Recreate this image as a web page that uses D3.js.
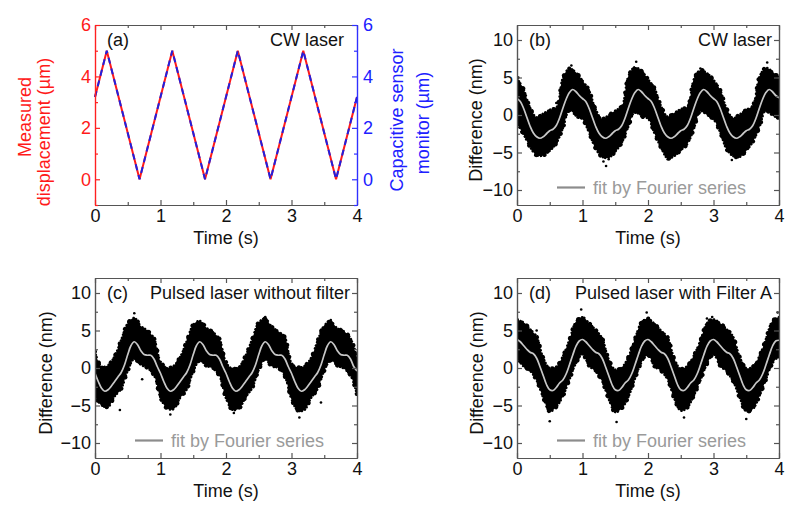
<!DOCTYPE html>
<html><head><meta charset="utf-8">
<script src="https://cdn.jsdelivr.net/npm/d3@7"></script>
<style>
body{margin:0;background:#fff}
svg{display:block}
text{font-family:"Liberation Sans",Arial,Helvetica,sans-serif}
</style>
</head><body>
<svg id="chart" width="800" height="514"></svg>
<script>
// ---------- DATA ----------
// Panel (a): triangle displacement vs time
const triTime      = [0, 0.18, 0.68, 1.18, 1.68, 2.18, 2.68, 3.18, 3.68, 4.0];
const measuredDisp = [3.2, 5, 0, 5, 0, 5, 0, 5, 0, 3.2];
const capSensor    = [3.2, 5, 0, 5, 0, 5, 0, 5, 0, 3.2];

const xTicks = [0, 1, 2, 3, 4];
const aTicks = [0, 2, 4, 6];
const dTicks = [-10, -5, 0, 5, 10];

// Fourier-fit curves (sampled every 0.05 s, 0..4 s)
const fitB = [2.2,1.8,0.9,-0.3,-1.5,-2.4,-2.9,-3.1,-2.9,-2.5,-2.1,-1.9,-1.4,-0.4,0.9,2.1,3.0,3.4,3.1,2.6,
              2.2,1.8,0.9,-0.3,-1.5,-2.4,-2.9,-3.1,-2.9,-2.5,-2.1,-1.9,-1.4,-0.4,0.9,2.1,3.0,3.4,3.1,2.6,
              2.2,1.8,0.9,-0.3,-1.5,-2.4,-2.9,-3.1,-2.9,-2.5,-2.1,-1.9,-1.4,-0.4,0.9,2.1,3.0,3.4,3.1,2.6,
              2.2,1.8,0.9,-0.3,-1.5,-2.4,-2.9,-3.1,-2.9,-2.5,-2.1,-1.9,-1.4,-0.4,0.9,2.1,3.0,3.4,3.1,2.6,
              2.3];
const fitC = [-0.7,-1.8,-2.7,-3.1,-2.9,-2.4,-1.8,-1.2,-0.6,0.4,1.8,3.0,3.5,3.1,2.3,1.8,1.7,1.7,1.2,0.2,
              -0.7,-1.8,-2.7,-3.1,-2.9,-2.4,-1.8,-1.2,-0.6,0.4,1.8,3.0,3.5,3.1,2.3,1.8,1.7,1.7,1.2,0.2,
              -0.7,-1.8,-2.7,-3.1,-2.9,-2.4,-1.8,-1.2,-0.6,0.4,1.8,3.0,3.5,3.1,2.3,1.8,1.7,1.7,1.2,0.2,
              -0.7,-1.8,-2.7,-3.1,-2.9,-2.4,-1.8,-1.2,-0.6,0.4,1.8,3.0,3.5,3.1,2.3,1.8,1.7,1.7,1.2,0.2,
              -0.4];
const fitD = [3.8,3.5,3.0,2.5,2.1,1.9,1.3,0.2,-1.0,-2.2,-2.9,-3.0,-2.6,-2.0,-1.6,-0.8,0.4,1.7,2.9,3.6,
              3.8,3.5,3.0,2.5,2.1,1.9,1.3,0.2,-1.0,-2.2,-2.9,-3.0,-2.6,-2.0,-1.6,-0.8,0.4,1.7,2.9,3.6,
              3.8,3.5,3.0,2.5,2.1,1.9,1.3,0.2,-1.0,-2.2,-2.9,-3.0,-2.6,-2.0,-1.6,-0.8,0.4,1.7,2.9,3.6,
              3.8,3.5,3.0,2.5,2.1,1.9,1.3,0.2,-1.0,-2.2,-2.9,-3.0,-2.6,-2.0,-1.6,-0.8,0.4,1.7,2.9,3.6,
              3.7];

// Scatter cloud envelopes (sampled every 0.1 s, 0..4 s)
const upperB = [4.9,3.5,1.0,-0.3,0.2,0.7,1.0,5.0,6.2,5.7,
                4.6,3.3,0.8,-0.5,0.0,0.6,1.2,5.2,6.4,5.9,
                4.8,3.6,1.2,-0.2,0.3,0.8,1.1,4.8,6.0,5.6,
                4.7,3.4,0.9,-0.4,0.1,0.7,1.3,5.1,6.3,5.8,
                5.0];
const lowerB = [-1.2,-2.6,-4.3,-5.4,-5.4,-4.8,-3.8,-1.8,0.6,-0.1,
                -0.6,-2.4,-4.5,-5.6,-5.7,-4.9,-3.7,-1.6,0.4,-0.2,
                -0.5,-2.5,-4.4,-5.8,-5.5,-4.7,-3.9,-1.9,0.5,0.0,
                -0.6,-2.3,-4.6,-5.5,-5.6,-4.8,-3.6,-1.7,0.6,-0.1,
                -0.4];
const upperC = [2.2,0.2,0.4,1.6,3.8,6.0,6.7,5.6,5.0,4.0,
                0.9,0.0,0.3,1.5,3.6,5.8,6.3,5.4,4.8,3.9,
                0.8,-0.1,0.2,1.7,3.9,6.1,6.6,5.5,4.9,4.1,
                0.7,0.1,0.3,1.4,3.7,5.7,6.2,5.3,4.9,4.0,
                1.5];
const lowerC = [-3.8,-5.0,-5.2,-3.8,-2.8,-0.4,1.2,0.4,0.0,-1.0,
                -4.0,-5.4,-5.5,-4.0,-2.9,-0.5,1.0,0.3,-0.1,-1.1,
                -4.1,-5.6,-5.4,-3.9,-2.7,-0.3,1.1,0.2,0.0,-1.2,
                -4.2,-5.7,-5.6,-4.0,-2.8,-0.4,1.0,0.3,-0.1,-1.0,
                -3.6];
const upperD = [6.4,6.1,5.2,4.2,1.4,0.0,0.2,1.6,3.8,6.2,
                6.8,6.0,5.1,4.0,1.2,-0.2,0.1,1.5,3.9,6.1,
                6.6,5.9,5.0,4.1,1.3,-0.1,0.3,1.7,3.7,6.0,
                6.5,6.0,5.2,4.2,1.5,0.0,0.2,1.6,3.9,6.3,
                6.8];
const lowerD = [1.2,0.2,-0.4,-1.7,-4.0,-5.8,-5.2,-3.8,-1.6,0.6,
                1.8,0.3,-0.5,-1.8,-4.2,-5.9,-5.4,-3.9,-1.5,0.7,
                1.7,0.2,-0.4,-1.6,-4.1,-5.7,-5.3,-3.7,-1.7,0.5,
                1.8,0.3,-0.5,-1.8,-4.0,-5.8,-5.5,-3.8,-1.6,0.6,
                1.6];

// Isolated outlier points [time, value]
const outB = [[0.02,5.0],[0.83,6.6],[1.36,-6.8],[1.32,-6.2],[1.82,7.1],[2.3,-5.9],[2.8,6.2],[3.28,-6.0],[3.82,7.0],[0.6,1.6],[2.62,1.4],[1.4,-5.9]];
const outC = [[0.6,7.3],[1.15,-6.2],[0.38,-5.6],[2.12,-6.0],[2.6,6.8],[3.12,-6.6],[3.6,6.4],[1.02,-2.0],[0.72,-1.5],[3.45,-4.6]];
const outD = [[0.5,-7.1],[0.98,7.8],[1.98,7.4],[1.52,-7.2],[2.98,6.8],[2.55,-6.6],[3.98,7.4],[0.3,5.0],[3.5,-6.8],[2.9,6.6]];

// ---------- DRAW ----------
const svg = d3.select("#chart");
const FS = 18;
const W = 262, H = 180;
const fitTime = fitB.map((_, i) => i * 0.05);
const bandTime = upperB.map((_, i) => i * 0.1);

function axes(g, x, y, yTicks, yMinor, colors) {
  const frame = colors || {bottom:"#555", left:"#555", right:"#555", lt:"#111", rt:null};
  const xMinor = [0.5,1.5,2.5,3.5];
  g.append("g").attr("transform", `translate(0,${H})`)
    .call(d3.axisBottom(x).tickValues(xTicks).tickSizeInner(-5).tickSizeOuter(0).tickPadding(4).tickFormat(d3.format("d")));
  g.append("g").attr("transform", `translate(0,${H})`)
    .call(d3.axisBottom(x).tickValues(xMinor).tickSizeInner(-3).tickSizeOuter(0).tickFormat(""));
  g.append("g").call(d3.axisTop(x).tickValues(xTicks).tickSizeInner(-5).tickSizeOuter(0).tickFormat(""));
  g.append("g").call(d3.axisTop(x).tickValues(xMinor).tickSizeInner(-3).tickSizeOuter(0).tickFormat(""));
  g.append("g").attr("class","yl")
    .call(d3.axisLeft(y).tickValues(yTicks).tickSizeInner(-5).tickSizeOuter(0).tickPadding(4).tickFormat(d3.format("d")));
  g.append("g").attr("class","ylm")
    .call(d3.axisLeft(y).tickValues(yMinor).tickSizeInner(-3).tickSizeOuter(0).tickFormat(""));
  g.append("g").attr("class","yr").attr("transform", `translate(${W},0)`)
    .call(d3.axisRight(y).tickValues(yTicks).tickSizeInner(-5).tickSizeOuter(0).tickPadding(6)
      .tickFormat(frame.rt ? d3.format("d") : ""));
  g.append("g").attr("class","yrm").attr("transform", `translate(${W},0)`)
    .call(d3.axisRight(y).tickValues(yMinor).tickSizeInner(-3).tickSizeOuter(0).tickFormat(""));
  g.selectAll(".domain, .tick line").attr("stroke", frame.bottom).attr("stroke-width", 1.2);
  g.selectAll(".yl .domain, .yl .tick line, .ylm .domain, .ylm .tick line").attr("stroke", frame.left);
  g.selectAll(".yr .domain, .yr .tick line, .yrm .domain, .yrm .tick line").attr("stroke", frame.right);
  g.selectAll(".tick text").attr("font-size", FS).attr("fill", "#111");
  g.selectAll(".yl .tick text").attr("fill", frame.lt);
  if (frame.rt) g.selectAll(".yr .tick text").attr("fill", frame.rt);
  g.selectAll("g").attr("font-family", null).attr("font-size", null);
  g.append("text").attr("x", W/2).attr("y", H + 39).attr("text-anchor", "middle")
    .attr("font-size", FS).attr("fill", "#111").text("Time (s)");
}

function vlabel(x, y, txt, color) {
  svg.append("text").attr("transform", `translate(${x},${y}) rotate(-90)`)
    .attr("text-anchor", "middle").attr("dy", "0.35em").attr("font-size", FS).attr("fill", color).text(txt);
}

// ---- Panel (a)
{
  const g = svg.append("g").attr("transform", "translate(95,25)");
  const x = d3.scaleLinear().domain([0, 4]).range([0, W]);
  const y = d3.scaleLinear().domain([-1, 6]).range([H, 0]);
  const line = d3.line().x((d) => x(d[0])).y((d) => y(d[1]));
  g.append("path").datum(triTime.map((t, i) => [t, measuredDisp[i]]))
    .attr("d", line).attr("fill", "none").attr("stroke", "#ff1a1a").attr("stroke-width", 2);
  g.append("path").datum(triTime.map((t, i) => [t, capSensor[i]]))
    .attr("d", line).attr("fill", "none").attr("stroke", "#2020e0").attr("stroke-width", 2)
    .attr("stroke-dasharray", "6,5");
  axes(g, x, y, aTicks, [-1,1,3,5], {bottom:"#555", left:"#ff2020", right:"#3030ff", lt:"#ff1a1a", rt:"#2020ff"});
  g.append("text").attr("x", 12).attr("y", 21).attr("font-size", FS).attr("fill", "#111").text("(a)");
  g.append("text").attr("x", W - 13).attr("y", 21).attr("text-anchor", "end").attr("font-size", FS).attr("fill", "#111").text("CW laser");
  vlabel(25, 117, "Measured", "#ff1a1a");
  vlabel(44, 132, "displacement (µm)", "#ff1a1a");
  vlabel(397, 120, "Capacitive sensor", "#2020ff");
  vlabel(423, 123, "monitor (µm)", "#2020ff");
}

// ---- Panels (b), (c), (d)
const diffPanels = [
  {x0: 517, y0: 25,  fit: fitB, up: upperB, lo: lowerB, out: outB, tag: "(b)", title: "CW laser", labOff: 41},
  {x0: 95,  y0: 278, fit: fitC, up: upperC, lo: lowerC, out: outC, tag: "(c)", title: "Pulsed laser without filter", labOff: 49},
  {x0: 517, y0: 278, fit: fitD, up: upperD, lo: lowerD, out: outD, tag: "(d)", title: "Pulsed laser with Filter A", labOff: 40}
];
diffPanels.forEach((p, k) => {
  const g = svg.append("g").attr("transform", `translate(${p.x0},${p.y0})`);
  const x = d3.scaleLinear().domain([0, 4]).range([0, W]);
  const y = d3.scaleLinear().domain([-12, 12]).range([H, 0]);
  const cid = "clip" + k;
  g.append("clipPath").attr("id", cid).append("rect").attr("width", W).attr("height", H);
  const pg = g.append("g").attr("clip-path", `url(#${cid})`);
  const area = d3.area().x((d, i) => x(bandTime[i])).y0((d, i) => y(p.lo[i])).y1((d, i) => y(p.up[i]))
    .curve(d3.curveCatmullRom);
  pg.append("path").datum(p.up).attr("d", area).attr("fill", "#000");
  // speckled fringe along the cloud edge
  pg.append("path").datum(p.up).attr("d", area).attr("fill", "none")
    .attr("stroke", "#000").attr("stroke-width", 2.2).attr("stroke-linecap", "round")
    .attr("stroke-dasharray", "0.4 3.1 0.4 1.9 0.4 4.3 0.4 2.6");
  pg.append("path").datum(p.up).attr("d", area).attr("fill", "none")
    .attr("stroke", "#000").attr("stroke-width", 4).attr("stroke-linecap", "round")
    .attr("stroke-dasharray", "0.1 11.7 0.1 15.3 0.1 8.9");
  pg.selectAll("circle.o").data(p.out).join("circle").attr("class", "o")
    .attr("cx", (d) => x(d[0])).attr("cy", (d) => y(d[1])).attr("r", 1.3).attr("fill", "#000");
  pg.append("path").datum(p.fit)
    .attr("d", d3.line().x((d, i) => x(fitTime[i])).y((d) => y(d)).curve(d3.curveCatmullRom))
    .attr("fill", "none").attr("stroke", "#c8c8c8").attr("stroke-width", 1.7);
  axes(g, x, y, dTicks, [-7.5,-2.5,2.5,7.5]);
  g.append("text").attr("x", 12).attr("y", 21).attr("font-size", FS).attr("fill", "#111").text(p.tag);
  g.append("text").attr("x", W - 7).attr("y", 21).attr("text-anchor", "end").attr("font-size", FS).attr("fill", "#111").text(p.title);
  g.append("line").attr("x1", 40).attr("x2", 68).attr("y1", H - 17.5).attr("y2", H - 17.5)
    .attr("stroke", "#8c8c8c").attr("stroke-width", 2.2);
  g.append("text").attr("x", 76).attr("y", H - 17.5).attr("dy", "0.35em").attr("font-size", FS)
    .attr("fill", "#9a9a9a").text("fit by Fourier series");
  vlabel(p.x0 - p.labOff, p.y0 + H/2 + 5, "Difference (nm)", "#111");
});
</script>
</body></html>
